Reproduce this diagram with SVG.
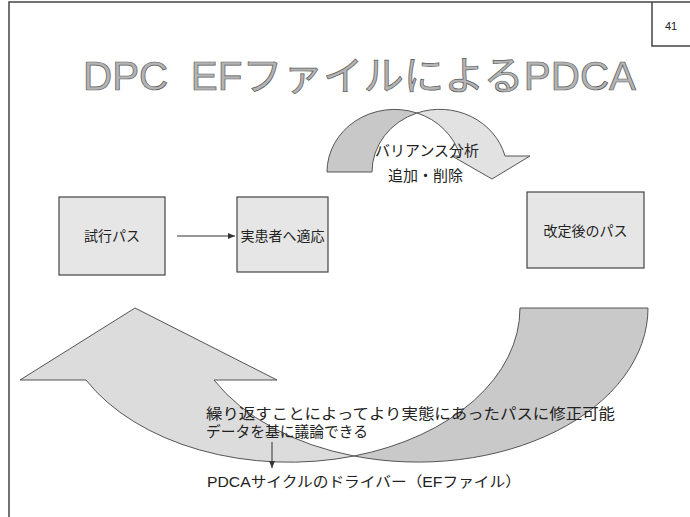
<svg xmlns="http://www.w3.org/2000/svg" width="690" height="517" viewBox="0 0 690 517">
<style>
.t{font-family:"Liberation Sans","Noto Sans CJK JP",sans-serif;fill:#222}
.box{fill:#e6e6e6;stroke:#444;stroke-width:1.2}
.sh{stroke:#555;stroke-width:1}
.front{fill:#dcdcdc}
.back{fill:#c9c9c9}
.frame{fill:none;stroke:#444;stroke-width:1.5}
</style>
<defs>
<marker id="ah" markerWidth="8" markerHeight="6" refX="7" refY="3" orient="auto" markerUnits="userSpaceOnUse">
<path d="M0,0 L7,3 L0,6 Z" fill="#333"/>
</marker>
</defs>
<rect width="690" height="517" fill="#fff"/>
<g id="frame">
<path class="frame" d="M9,517 V2 H690"/>
<path class="frame" d="M652,2 V46 H690" stroke-width="1"/>
<text class="t" x="671" y="30" font-size="11" text-anchor="middle">41</text>
</g>
<g id="title">
<text class="t" x="83" y="90" font-size="40" xml:space="preserve" textLength="553" lengthAdjust="spacingAndGlyphs" style="fill:#b4b4b4;stroke:#5a5a5a;stroke-width:0.7">DPC  EFファイルによるPDCA</text>
</g>
<g id="cycle-arrow">
<path class="sh back" d="M648,308 A230,154 0 0 1 354,456 A230,154 0 0 0 520,308 Z"/>
<path class="sh front" d="M354,456 A230,154 0 0 1 86,380 L20,380 L135,308 L277,380 L214,380 A230,154 0 0 0 354,456 Z"/>
</g>
<g id="variance-arrow">
<path class="sh" fill="#c8c8c8" d="M327,172 A67.5,62.6 0 0 1 417,113 A67.5,62.6 0 0 0 372,172 Z"/>
<path class="sh" fill="#e2e2e2" d="M417,113 A67.5,62.6 0 0 1 505,156 L530,156 L492,179 L452,156 L460,156 A67.5,62.6 0 0 0 417,113 Z"/>
<text class="t" x="375" y="156" font-size="15">バリアンス分析</text>
<text class="t" x="388" y="181" font-size="15">追加・削除</text>
</g>
<g id="node-trial">
<rect class="box" x="59" y="197" width="106" height="78"/>
<text class="t" x="112" y="241" font-size="14" text-anchor="middle">試行パス</text>
</g>
<g id="node-apply">
<rect class="box" x="237" y="197" width="91" height="75"/>
<text class="t" x="282.5" y="241" font-size="14" text-anchor="middle">実患者へ適応</text>
</g>
<g id="node-revised">
<rect class="box" x="527" y="192" width="117" height="76"/>
<text class="t" x="585.5" y="236" font-size="14" text-anchor="middle">改定後のパス</text>
</g>
<g id="connectors">
<line x1="177" y1="236" x2="235" y2="236" stroke="#333" stroke-width="1" marker-end="url(#ah)"/>
<line x1="272" y1="442" x2="272" y2="468" stroke="#333" stroke-width="1" marker-end="url(#ah)"/>
</g>
<g id="notes">
<text class="t" x="206" y="419" font-size="15" textLength="409" lengthAdjust="spacingAndGlyphs">繰り返すことによってより実態にあったパスに修正可能</text>
<text class="t" x="206" y="437" font-size="15" textLength="162" lengthAdjust="spacingAndGlyphs">データを基に議論できる</text>
<text class="t" x="207" y="487" font-size="14.5" textLength="314" lengthAdjust="spacingAndGlyphs">PDCAサイクルのドライバー（EFファイル）</text>
</g>
</svg>
